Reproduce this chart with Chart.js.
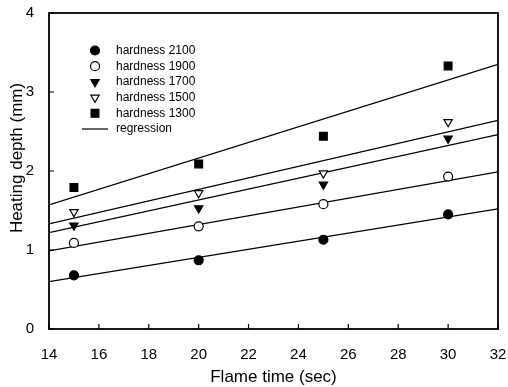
<!DOCTYPE html>
<html>
<head>
<meta charset="utf-8">
<script src="https://cdn.jsdelivr.net/npm/chart.js"></script>
<style>
    html, body { margin: 0; padding: 0; background: #fff; }
    #wrap { width: 508px; height: 387px; }
</style>
</head>
<body>
<div id="wrap"><canvas id="depthChart" width="508" height="387"></canvas></div>
<script>
// --- data ---
const flameTimes = [15, 20, 25, 30];
const depth2100 = [0.68, 0.87, 1.13, 1.45];
const depth1900 = [1.09, 1.30, 1.58, 1.93];
const depth1700 = [1.31, 1.53, 1.83, 2.41];
const depth1500 = [1.48, 1.72, 1.97, 2.62];
const depth1300 = [1.79, 2.09, 2.44, 3.33];

// regression lines, value at x = 14 and x = 32
const regressionX = [14, 32];
const reg2100 = [0.60, 1.52];
const reg1900 = [0.99, 1.99];
const reg1700 = [1.22, 2.46];
const reg1500 = [1.33, 2.64];
const reg1300 = [1.57, 3.35];

const xTicks = [14, 16, 18, 20, 22, 24, 26, 28, 30, 32];
const yTicks = [0, 1, 2, 3, 4];

const FONT = '"Liberation Sans", Arial, Helvetica, sans-serif';

function toPoints(xs, ys) {
    return xs.map((x, i) => ({ x: x, y: ys[i] }));
}

function pointSet(label, values, style, filled, rotation) {
    return {
        type: 'scatter',
        label: label,
        data: toPoints(flameTimes, values),
        pointStyle: style,
        rotation: rotation || 0,
        pointRadius: style === 'rect' ? 5.5 : (style === 'triangle' ? 4.8 : 4.5),
        borderWidth: 1.2,
        borderColor: '#000',
        backgroundColor: filled ? '#000' : '#fff',
        showLine: false
    };
}

function regSet(values) {
    return {
        type: 'line',
        label: 'regression',
        data: toPoints(regressionX, values),
        borderColor: '#000',
        borderWidth: 1.2,
        pointRadius: 0,
        fill: false,
        isRegression: true
    };
}

// no extra room for overflowing tick labels, layout padding decides the plot box
function noLabelPadding(scale) {
    scale.paddingLeft = 0;
    scale.paddingRight = 0;
    scale.paddingTop = 0;
    scale.paddingBottom = 0;
}

// frame + inward ticks + y title + legend
const framePlugin = {
    id: 'frame',
    afterDraw(chart) {
        const ctx = chart.ctx;
        const a = chart.chartArea;
        const xs = chart.scales.x, ys = chart.scales.y;
        ctx.save();
        ctx.strokeStyle = '#000';
        ctx.lineWidth = 1.8;
        ctx.strokeRect(a.left, a.top, a.right - a.left, a.bottom - a.top);
        ctx.lineWidth = 1.2;
        ctx.beginPath();
        xTicks.forEach(v => {
            const px = xs.getPixelForValue(v);
            ctx.moveTo(px, a.bottom);
            ctx.lineTo(px, a.bottom - 5);
        });
        yTicks.forEach(v => {
            const py = ys.getPixelForValue(v);
            ctx.moveTo(a.left, py);
            ctx.lineTo(a.left + 5, py);
        });
        ctx.stroke();

        // y axis title (sits a bit above the middle of the axis in the original)
        ctx.save();
        ctx.translate(17, 158);
        ctx.rotate(-Math.PI / 2);
        ctx.font = '17px ' + FONT;
        ctx.textAlign = 'center';
        ctx.textBaseline = 'middle';
        ctx.fillStyle = '#000';
        ctx.fillText('Heating depth (mm)', 0, 0);
        ctx.restore();

        // legend
        const markX = 95, textX = 116;
        let rowY = 50.5;
        ctx.font = '12px ' + FONT;
        ctx.textBaseline = 'middle';
        chart.data.datasets.forEach(ds => {
            if (ds.isRegression) return;
            ctx.fillStyle = ds.backgroundColor;
            ctx.strokeStyle = ds.borderColor;
            ctx.lineWidth = ds.borderWidth;
            Chart.helpers.drawPoint(ctx, {
                pointStyle: ds.pointStyle,
                rotation: ds.rotation,
                radius: ds.pointRadius,
                borderWidth: ds.borderWidth
            }, markX, rowY);
            ctx.fillStyle = '#000';
            ctx.fillText(ds.label, textX, rowY);
            rowY += 15.7;
        });
        ctx.strokeStyle = '#000';
        ctx.lineWidth = 1.2;
        ctx.beginPath();
        ctx.moveTo(82, rowY);
        ctx.lineTo(108, rowY);
        ctx.stroke();
        ctx.fillStyle = '#000';
        ctx.fillText('regression', textX, rowY);
        ctx.restore();
    }
};

const ctx = document.getElementById('depthChart').getContext('2d');
const depthChart = new Chart(ctx, {
    data: {
        datasets: [
            pointSet('hardness 2100', depth2100, 'circle', true),
            pointSet('hardness 1900', depth1900, 'circle', false),
            pointSet('hardness 1700', depth1700, 'triangle', true, 180),
            pointSet('hardness 1500', depth1500, 'triangle', false, 180),
            pointSet('hardness 1300', depth1300, 'rect', true),
            regSet(reg2100),
            regSet(reg1900),
            regSet(reg1700),
            regSet(reg1500),
            regSet(reg1300)
        ]
    },
    options: {
        responsive: false,
        animation: false,
        layout: { padding: { top: 13, right: 10, left: 0, bottom: 0 } },
        plugins: {
            legend: { display: false },
            tooltip: { enabled: false }
        },
        scales: {
            x: {
                type: 'linear',
                min: 14,
                max: 32,
                afterBuildTicks(scale) { scale.ticks = xTicks.map(v => ({ value: v })); },
                afterFit(scale) { scale.height = 58; noLabelPadding(scale); },
                grid: { display: false },
                border: { display: false },
                ticks: { color: '#000', padding: 9, font: { family: FONT, size: 15 } },
                title: {
                    display: true,
                    text: 'Flame time (sec)',
                    color: '#000',
                    font: { family: FONT, size: 17 },
                    padding: { top: 0, bottom: -1 }
                }
            },
            y: {
                type: 'linear',
                min: 0,
                max: 4,
                afterBuildTicks(scale) { scale.ticks = yTicks.map(v => ({ value: v })); },
                afterFit(scale) { scale.width = 49; noLabelPadding(scale); },
                grid: { display: false },
                border: { display: false },
                ticks: { color: '#000', padding: 7, font: { family: FONT, size: 15 } }
            }
        }
    },
    plugins: [framePlugin]
});
</script>
</body>
</html>
